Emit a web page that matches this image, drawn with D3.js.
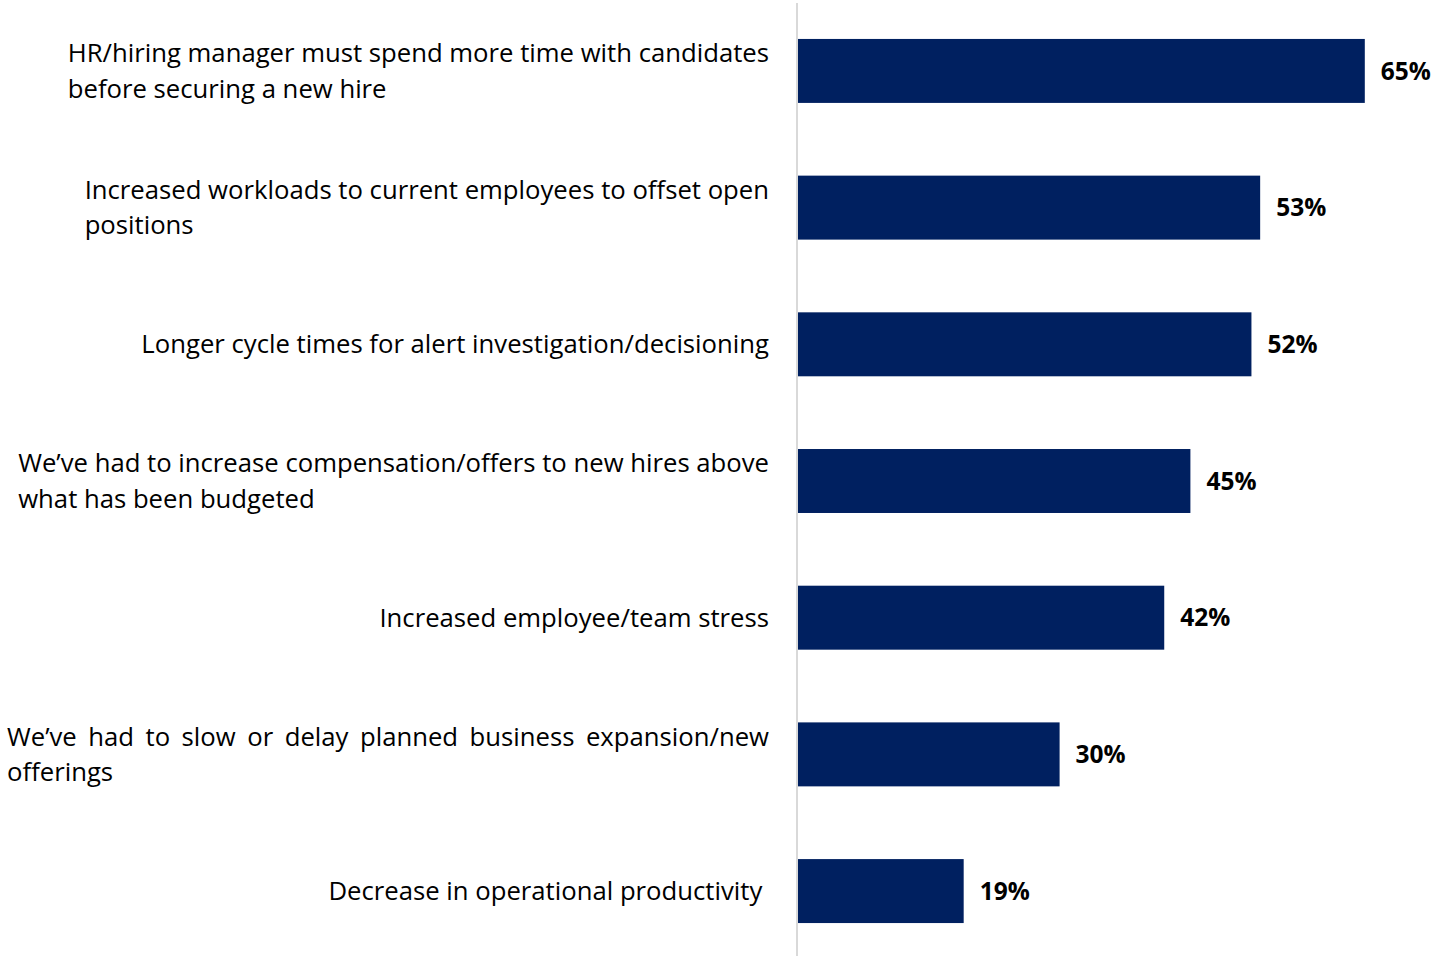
<!DOCTYPE html>
<html>
<head>
<meta charset="utf-8">
<script src="https://cdn.jsdelivr.net/npm/d3@7"></script>
<style>
  html, body { margin: 0; padding: 0; background: #fff; }
  svg { display: block; }
</style>
</head>
<body>
<svg id="chart" width="1435" height="956"></svg>
<script>
// Impacts of open positions — share of respondents
const categories = [
  ["HR/hiring manager must spend more time with candidates", "before securing a new hire"],
  ["Increased workloads to current employees to offset open", "positions"],
  ["Longer cycle times for alert investigation/decisioning"],
  ["We\u2019ve had to increase compensation/offers to new hires above", "what has been budgeted"],
  ["Increased employee/team stress"],
  ["We\u2019ve had to slow or delay planned business expansion/new", "offerings"],
  ["Decrease in operational productivity "]
];
const values = [65, 53, 52, 45, 42, 30, 19];
const valueLabels = values.map(v => v + "%");

const W = 1435, H = 956;
const svg = d3.select("#chart");

const labelFont = "'Open Sans', 'DejaVu Sans', sans-serif";
const labelSize = 25.7;
const lineGap = 35.5;
const labelRight = 769;
const labelLeftLimit = 7;
const justifiedIndex = 5; // this wrapped label is set fully justified

const x = d3.scaleLinear().domain([0, 100]).range([798, 1670]);
const y = d3.scaleBand()
  .domain(d3.range(categories.length))
  .range([3, 959])
  .paddingInner(0.532)
  .paddingOuter(0.263);

// Category axis line
svg.append("line")
  .attr("x1", 797).attr("x2", 797)
  .attr("y1", 3).attr("y2", H)
  .attr("stroke", "#d9d9d9")
  .attr("stroke-width", 2);

// Bars
svg.append("g").selectAll("rect")
  .data(values)
  .join("rect")
  .attr("x", x(0))
  .attr("y", (d, i) => y(i))
  .attr("width", d => x(d) - x(0))
  .attr("height", y.bandwidth())
  .attr("fill", "#002060");

// Value labels
svg.append("g").selectAll("text")
  .data(values)
  .join("text")
  .attr("x", d => x(d) + 16)
  .attr("y", (d, i) => y(i) + y.bandwidth() / 2)
  .attr("dy", "0.35em")
  .attr("font-family", labelFont)
  .attr("font-size", 24.5)
  .attr("font-weight", 700)
  .attr("fill", "#000")
  .text((d, i) => valueLabels[i]);

// Category labels: wrapped lines left-aligned in a block whose widest line ends at labelRight
const lg = svg.append("g");
categories.forEach((lines, i) => {
  const cy = y(i) + y.bandwidth() / 2;
  const t = lg.append("text")
    .attr("font-family", labelFont)
    .attr("font-size", labelSize)
    .attr("fill", "#000")
    .style("white-space", "pre");
  const spans = lines.map((ln, k) => t.append("tspan")
    .attr("y", cy + (k - (lines.length - 1) / 2) * lineGap)
    .attr("dy", "0.35em")
    .text(ln));
  const widths = spans.map(s => s.node().getComputedTextLength());
  let left = labelRight - d3.max(widths);
  if (i === justifiedIndex) {
    left = labelLeftLimit;
    const first = lines[0];
    const gaps = (first.match(/ /g) || []).length;
    const extra = (labelRight - labelLeftLimit - widths[0]) / gaps;
    spans[0].attr("word-spacing", extra);
  }
  spans.forEach(s => s.attr("x", left));
});
</script>
</body>
</html>
